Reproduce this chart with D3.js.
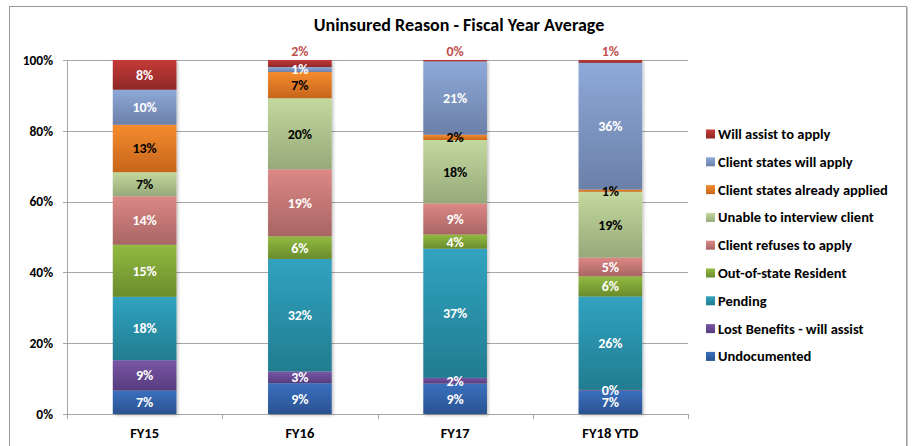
<!DOCTYPE html>
<html>
<head>
<meta charset="utf-8">
<script src="https://cdn.jsdelivr.net/npm/d3@7"></script>
<style>
  html, body { margin: 0; padding: 0; background: #fff; }
  svg { display: block; font-family: Carlito, Lato, "Open Sans", sans-serif; }
</style>
</head>
<body>
<svg width="917" height="446"></svg>
<script>
var W = 917, H = 446;

// categories and series (bottom of stack first)
var years = ['FY15', 'FY16', 'FY17', 'FY18 YTD'];
var reasons = [
  'Undocumented',
  'Lost Benefits - will assist',
  'Pending',
  'Out-of-state Resident',
  'Client refuses to apply',
  'Unable to interview client',
  'Client states already applied',
  'Client states will apply',
  'Will assist to apply'
];

// percent values per year, same order as reasons
var undocumented   = [6.6, 8.7, 8.6, 6.6];
var lostBenefits   = [8.6, 3.3, 1.6, 0.2];
var pending        = [17.9, 31.8, 36.5, 26.4];
var outOfState     = [14.7, 6.4, 4.0, 5.7];
var refuses        = [13.7, 18.9, 8.8, 5.3];
var unableInterview = [6.8, 20.1, 17.9, 18.6];
var alreadyApplied = [13.4, 7.4, 1.5, 0.6];
var willApply      = [9.9, 1.4, 20.7, 35.8];
var willAssist     = [8.4, 2.0, 0.4, 0.8];

var seriesValues = [undocumented, lostBenefits, pending, outOfState, refuses,
  unableInterview, alreadyApplied, willApply, willAssist];

var yTicks = [0, 20, 40, 60, 80, 100];

// top / bottom gradient colours per series
var colorTop = ['#3a70bf', '#7a56a6', '#31a3c0', '#92bb40', '#dc8886', '#c3d99e', '#f58c2d', '#8ea9d9', '#c43a38'];
var colorBot = ['#2a5290', '#553c7c', '#227c90', '#6a8b2c', '#a86563', '#96a97a', '#c6651c', '#6b80a8', '#8f2828'];
var labelColor = ['#fff', '#fff', '#fff', '#fff', '#fff', '#000', '#000', '#fff', '#fff'];

var svg = d3.select('svg');

// chart frame
svg.append('rect')
  .attr('x', 9.5).attr('y', 6.5)
  .attr('width', 897).attr('height', 450)
  .attr('fill', '#fff')
  .attr('stroke', '#9a9a9a')
  .attr('stroke-width', 1);
svg.append('line')
  .attr('x1', 907.5).attr('x2', 907.5).attr('y1', 7).attr('y2', H)
  .attr('stroke', '#c8c8c8');

var plot = { left: 67, right: 688, top: 60, bottom: 414 };

var x = d3.scaleBand()
  .domain(years)
  .range([plot.left, plot.right])
  .paddingInner(0.59)
  .paddingOuter(0.295);

var y = d3.scaleLinear()
  .domain([0, 100])
  .range([plot.bottom, plot.top]);

// gradients
var defs = svg.append('defs');
reasons.forEach(function (r, i) {
  var g = defs.append('linearGradient')
    .attr('id', 'grad' + i)
    .attr('x1', 0).attr('y1', 0).attr('x2', 0).attr('y2', 1);
  g.append('stop').attr('offset', '0%').attr('stop-color', colorTop[i]);
  g.append('stop').attr('offset', '100%').attr('stop-color', colorBot[i]);
});
var shadow = defs.append('filter').attr('id', 'shadow')
  .attr('x', '-10%').attr('y', '-5%').attr('width', '130%').attr('height', '115%');
shadow.append('feDropShadow')
  .attr('dx', 1.5).attr('dy', 1.5).attr('stdDeviation', 1.5)
  .attr('flood-color', '#000').attr('flood-opacity', 0.25);

// gridlines
svg.append('g')
  .selectAll('line')
  .data(yTicks)
  .join('line')
  .attr('x1', plot.left - 4).attr('x2', plot.right)
  .attr('y1', function (d) { return Math.round(y(d)) + 0.5; })
  .attr('y2', function (d) { return Math.round(y(d)) + 0.5; })
  .attr('stroke', '#a6a6a6')
  .attr('stroke-width', 1);

// y axis line
svg.append('line')
  .attr('x1', plot.left + 0.5).attr('x2', plot.left + 0.5)
  .attr('y1', plot.top).attr('y2', plot.bottom + 1)
  .attr('stroke', '#a6a6a6');

// x axis tick marks between categories
var step = x.step();
var xTickPos = d3.range(years.length + 1).map(function (i) {
  return plot.left + i * step;
});
svg.append('g')
  .selectAll('line')
  .data(xTickPos)
  .join('line')
  .attr('x1', function (d) { return Math.round(d) + 0.5; })
  .attr('x2', function (d) { return Math.round(d) + 0.5; })
  .attr('y1', plot.bottom).attr('y2', plot.bottom + 5)
  .attr('stroke', '#a6a6a6');

// y labels
svg.append('g')
  .selectAll('text')
  .data(yTicks)
  .join('text')
  .attr('x', 53)
  .attr('y', function (d) { return y(d); })
  .attr('dy', '0.35em')
  .attr('text-anchor', 'end')
  .attr('font-size', 13.5)
  .attr('font-weight', 'bold')
  .attr('fill', '#000')
  .text(function (d) { return d + '%'; });

// x labels
svg.append('g')
  .selectAll('text')
  .data(years)
  .join('text')
  .attr('x', function (d) { return x(d) + x.bandwidth() / 2; })
  .attr('y', 433)
  .attr('dy', '0.35em')
  .attr('text-anchor', 'middle')
  .attr('font-size', 14.5)
  .attr('font-weight', 'bold')
  .text(function (d) { return d; });

// stack
var table = years.map(function (yr, j) {
  var row = { year: yr };
  reasons.forEach(function (r, i) { row[r] = seriesValues[i][j]; });
  return row;
});
var stacked = d3.stack().keys(reasons)(table);

var bars = svg.append('g').attr('filter', 'url(#shadow)');
bars.selectAll('g')
  .data(stacked)
  .join('g')
  .attr('fill', function (d, i) { return 'url(#grad' + i + ')'; })
  .selectAll('rect')
  .data(function (d) { return d; })
  .join('rect')
  .attr('x', function (d) { return x(d.data.year); })
  .attr('width', x.bandwidth())
  .attr('y', function (d) { return y(d[1]); })
  .attr('height', function (d) { return y(d[0]) - y(d[1]); });

// data labels
var labels = svg.append('g')
  .attr('font-size', 14)
  .attr('font-weight', 'bold')
  .attr('text-anchor', 'middle');
stacked.forEach(function (s, i) {
  s.forEach(function (d) {
    var v = d[1] - d[0];
    var above = (i === reasons.length - 1 && v < 3);
    var cy = above ? plot.top - 9 : (y(d[0]) + y(d[1])) / 2;
    labels.append('text')
      .attr('x', x(d.data.year) + x.bandwidth() / 2)
      .attr('y', cy)
      .attr('dy', '0.35em')
      .attr('fill', above ? '#c0504d' : labelColor[i])
      .text(Math.round(v) + '%');
  });
});

// title
svg.append('text')
  .attr('x', 459).attr('y', 31)
  .attr('text-anchor', 'middle')
  .attr('font-size', 18)
  .attr('font-weight', 'bold')
  .text('Uninsured Reason - Fiscal Year Average');

// legend (top series first)
var legendItems = reasons.slice().reverse();
var legend = svg.append('g')
  .selectAll('g')
  .data(legendItems)
  .join('g')
  .attr('transform', function (d, k) { return 'translate(706,' + (134 + k * 27.8) + ')'; });
legend.append('rect')
  .attr('x', 0).attr('y', -4.5)
  .attr('width', 9).attr('height', 9)
  .attr('fill', function (d) { return 'url(#grad' + reasons.indexOf(d) + ')'; });
legend.append('text')
  .attr('x', 12).attr('y', 0)
  .attr('dy', '0.35em')
  .attr('font-size', 14.5)
  .attr('font-weight', 'bold')
  .text(function (d) { return d; });
</script>
</body>
</html>
